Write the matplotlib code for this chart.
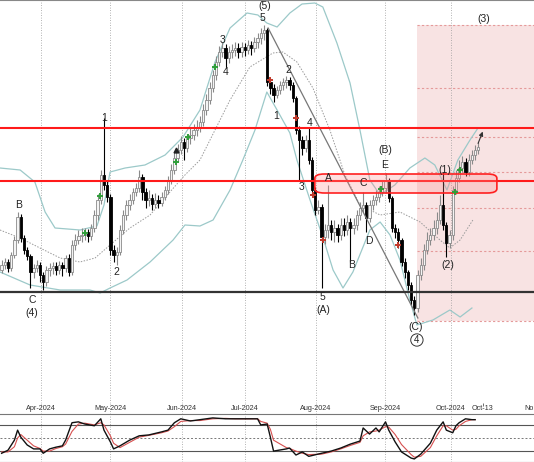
import matplotlib
matplotlib.use("Agg")
import matplotlib.pyplot as plt
from matplotlib.patches import Rectangle, FancyBboxPatch
import numpy as np

plt.rcParams['font.family'] = ['Liberation Sans', 'DejaVu Sans']

# ---- daily bars (chart price units) ----
first_open = 130
closes = [135, 138, 132, 145, 160, 183, 162, 150, 144, 128,
          132, 135, 125, 118, 130, 132, 134, 130, 135, 132,
          142, 128, 155, 160, 164, 165, 168, 164, 172, 185,
          200, 225, 215, 203, 150, 145, 148, 170, 185, 195,
          200, 208, 212, 223, 208, 200, 202, 196, 200, 197,
          203, 210, 220, 230, 242, 250, 258, 252, 262, 265,
          270, 272, 278, 290, 300, 312, 325, 338, 348, 352,
          342, 348, 350, 352, 348, 353, 350, 355, 352, 358,
          362, 367, 370, 318, 312, 305, 310, 315, 318, 320,
          315, 302, 270, 260, 252, 260, 240, 210, 190, 193,
          163, 170, 175, 168, 172, 165, 175, 170, 178, 172,
          175, 185, 192, 195, 182, 195, 200, 203, 208, 212,
          220, 202, 172, 168, 160, 138, 128, 115, 100, 92,
          125, 135, 150, 160, 165, 172, 180, 195, 175, 157,
          165, 210, 222, 232, 238, 228, 240, 245, 250, 253]
highs = [140, 142, 141, 148, 164, 188, 186, 165, 153, 146,
         136, 140, 138, 128, 134, 137, 138, 138, 139, 138,
         145, 146, 160, 166, 170, 172, 172, 171, 176, 190,
         206, 230, 282, 220, 206, 155, 153, 175, 190, 200,
         206, 212, 217, 230, 226, 212, 210, 206, 207, 205,
         208, 214, 224, 236, 248, 256, 264, 262, 266, 272,
         276, 280, 284, 296, 306, 318, 330, 344, 354, 358,
         356, 354, 356, 358, 357, 358, 357, 360, 359, 363,
         367, 372, 375, 372, 322, 316, 314, 319, 322, 324,
         323, 318, 304, 274, 264, 265, 272, 243, 213, 200,
         196, 176, 215, 180, 180, 176, 182, 182, 185, 182,
         182, 190, 198, 208, 198, 200, 205, 210, 214, 220,
         227, 222, 204, 176, 172, 162, 142, 130, 118, 104,
         130, 142, 156, 168, 172, 180, 188, 205, 228, 178,
         170, 214, 230, 240, 244, 242, 246, 250, 255, 258]
lows = [127, 131, 128, 129, 142, 157, 158, 146, 140, 112,
        122, 128, 118, 110, 114, 124, 126, 125, 126, 124,
        128, 124, 125, 150, 156, 158, 160, 158, 160, 168,
        180, 196, 210, 198, 145, 138, 135, 145, 166, 180,
        190, 196, 204, 208, 200, 192, 194, 190, 192, 192,
        194, 200, 206, 216, 226, 238, 246, 240, 248, 256,
        260, 264, 268, 274, 285, 296, 308, 320, 334, 343,
        332, 337, 342, 344, 342, 343, 344, 346, 345, 348,
        352, 356, 360, 314, 306, 298, 302, 306, 310, 312,
        310, 298, 266, 220, 245, 248, 236, 205, 185, 186,
        112, 156, 162, 160, 158, 158, 160, 164, 165, 138,
        166, 170, 180, 188, 168, 178, 190, 195, 198, 204,
        207, 198, 168, 162, 152, 134, 122, 110, 95, 85,
        88, 120, 130, 146, 155, 160, 166, 176, 170, 143,
        152, 160, 206, 218, 228, 224, 224, 236, 240, 246]

# ---- bands (bar index, price) ----
upper_x = [-0.5, 5.8, 10.4, 13.6, 16.7, 24.5, 29.8, 32, 33.9, 38.6, 44.8, 51.1, 56.7, 62,
           66.7, 71.4, 76.7, 80.1, 82.9, 86.1, 90.1, 93.9, 97.9, 100.4, 104.8, 108.9, 112,
           115.1, 118.3, 122.9, 127.6, 132.3, 135.4, 139.2, 142.6, 146.4, 148.9]
upper_p = [232, 230, 218, 188, 172, 170, 174, 195, 228, 232, 235, 245, 263, 290,
           338, 372, 387, 385, 377, 373, 387, 396, 397, 393, 357, 317, 270,
           220, 205, 215, 232, 242, 235, 210, 240, 260, 272]
mid_x = [-0.5, 5.8, 12, 18.3, 24.5, 29.2, 33.9, 40.1, 46.4, 52.6, 57.3, 62, 66.7, 71.4,
         77.6, 84.8, 87.9, 92.3, 97.3, 102.6, 107.3, 112, 118.3, 124.5, 130.8, 137,
         140.1, 143.3, 147.3]
mid_p = [170, 162, 152, 142, 138, 142, 155, 172, 185, 208, 225, 240, 270, 300,
         333, 347, 348, 338, 312, 270, 225, 195, 185, 188, 178, 160,
         152, 160, 180]
lower_x = [-0.5, 8.9, 18.3, 27.6, 30.8, 33.9, 39.2, 46.4, 53.6, 57.3, 62, 66.1, 71.4,
           75.4, 79.2, 82.9, 86.1, 90.1, 92.3, 96.4, 100.4, 103.6, 106.7, 109.8, 115.1,
           118.3, 121.4, 124.5, 127.6, 129.8, 134.8, 140.1, 143.3, 147]
lower_p = [128, 115, 110, 110, 107, 112, 120, 138, 160, 175, 174, 180, 210,
           240, 270, 308, 290, 267, 240, 200, 163, 130, 112, 128, 170,
           178, 165, 140, 100, 75, 80, 90, 83, 92]

# ---- stochastic ----
stoch_x = [0, 2, 4, 5, 6, 8, 10, 12, 13, 15, 17, 19, 20, 22, 24, 26, 29, 31, 32, 34, 35, 37,
           40, 43, 46, 50, 52, 54, 56, 59, 62, 66, 70, 73, 76, 80, 81, 83, 84, 85, 89, 90,
           92, 94, 96, 100, 103, 106, 109, 112, 113, 115, 117, 118, 120, 121, 123, 125,
           128, 129, 131, 134, 136, 138, 139, 141, 142, 143, 145, 147, 148]
stoch_k = [15, 22, 45, 68, 52, 34, 25, 25, 15, 25, 29, 32, 45, 85, 87, 82, 78, 94, 68, 41, 25, 32,
           45, 55, 57, 64, 68, 85, 94, 89, 92, 96, 94, 94, 94, 94, 80, 82, 52, 20, 25, 27,
           11, 18, 8, 15, 20, 27, 36, 43, 73, 59, 73, 64, 87, 68, 41, 18,
           4, 2, 13, 38, 68, 87, 68, 62, 78, 85, 94, 92, 92]
stoch_d = [18, 18, 30, 50, 58, 45, 32, 26, 20, 20, 26, 30, 36, 65, 82, 84, 80, 85, 80, 55, 38, 28,
           40, 52, 56, 62, 66, 76, 88, 90, 90, 94, 95, 94, 94, 94, 88, 84, 70, 45, 28, 26,
           20, 15, 12, 13, 18, 25, 33, 40, 55, 64, 66, 68, 76, 75, 58, 35,
           12, 6, 8, 28, 55, 78, 78, 68, 70, 78, 88, 92, 92]

# ---- levels, zones, signals ----
red_levels = [272, 219]
support_level = 108
target_box = (129.8, 79, 375)          # start bar, bottom, top
target_levels = [375, 312, 263, 228, 192, 149, 79]
resist_zone = (97.9, 154.8, 207, 226)  # x0, x1, low, high
trend_x = [83.3, 130.1]
trend_p = [372, 82]
buy_x = [26, 30.8, 54.5, 58.3, 66.7, 118.6, 141.7, 143.3]
buy_p = [167, 204, 238, 263, 333, 211, 208, 230]
sell_x = [83.9, 92, 97.3, 100.4, 123.9]
sell_p = [320, 282, 205, 160, 155]
wave_labels = [("(5)", 82.3, 394), ("5", 81.4, 382), ("3", 69.2, 360), ("4", 70.1, 328),
               ("1", 32, 282), ("B", 5.3, 195), ("C", 9.5, 100), ("(4)", 9.5, 87),
               ("2", 35.8, 128), ("1", 85.8, 284), ("2", 89.5, 330), ("4", 96.4, 277),
               ("3", 93.6, 213), ("5", 100.4, 103), ("(A)", 100.4, 90), ("A", 102.3, 222),
               ("B", 109.5, 135), ("C", 113, 217), ("D", 114.8, 159), ("E", 119.8, 235),
               ("(B)", 119.8, 250), ("(C)", 129.5, 73), ("(1)", 138.6, 230),
               ("(2)", 139.5, 135), ("(3)", 150.8, 381)]
month_pos = [12.3, 33.9, 56.4, 76.1, 98.3, 119.8, 140.4]
month_lab = ["Apr-2024", "May-2024", "Jun-2024", "Jul-2024", "Aug-2024", "Sep-2024", "Oct-2024"]

X_LIM = (-0.5, 166.4)
GRID = dict(color="#9a9a9a", lw=0.6, ls=(0, (1, 2)), zorder=1)

fig = plt.figure(figsize=(5.34, 4.62), dpi=100)
ax = fig.add_axes([0, 59 / 462, 1, 403 / 462])
axd = fig.add_axes([0, 48 / 462, 1, 11 / 462])
axo = fig.add_axes([0, 0, 1, 48 / 462])

# main panel
ax.set_xlim(*X_LIM)
ax.set_ylim(-3, 400)
for sp in ["left", "right", "bottom"]:
    ax.spines[sp].set_visible(False)
ax.spines["top"].set_color("#888")
ax.set_xticks([])
ax.set_yticks([])
for m in month_pos:
    ax.axvline(m, **GRID)

# target box
ax.add_patch(Rectangle((target_box[0], target_box[1]), X_LIM[1] - target_box[0] + 1,
                       target_box[2] - target_box[1], fc="#f8e3e3", ec="none", zorder=0))
ax.hlines(target_levels, target_box[0], X_LIM[1] + 1, color="#e59a9a", lw=0.8,
          ls=(0, (2, 2)), zorder=0.5)

# bands
ax.plot(upper_x, upper_p, color="#9cc9c9", lw=0.9, zorder=2)
ax.plot(lower_x, lower_p, color="#9cc9c9", lw=0.9, zorder=2)
ax.plot(mid_x, mid_p, color="#9a9a9a", lw=0.7, ls=(0, (1.5, 1.5)), zorder=2)

# candles
o = np.array([first_open] + closes[:-1])
c = np.array(closes)
h = np.array(highs)
l = np.array(lows)
idx = np.arange(len(c))
up = c >= o
dn = ~up
ax.vlines(idx[up], l[up], h[up], color="#8a8a8a", lw=0.8, zorder=3)
ax.vlines(idx[dn], l[dn], h[dn], color="black", lw=0.8, zorder=3)
ax.bar(idx[up], np.maximum(c[up] - o[up], 1), bottom=o[up], width=0.72,
       color="#f4f4f4", edgecolor="#8a8a8a", lw=0.6, zorder=3.1)
ax.bar(idx[dn], np.maximum(o[dn] - c[dn], 1), bottom=c[dn], width=0.72,
       color="black", edgecolor="black", lw=0.6, zorder=3.1)

# levels
ax.axhline(red_levels[0], color="#ff1a1a", lw=1.5, zorder=4)
ax.axhline(red_levels[1], color="#ff1a1a", lw=1.5, zorder=4)
ax.axhline(support_level, color="#333333", lw=1.6, zorder=4)
zx0, zx1, zlo, zhi = resist_zone
ax.add_patch(FancyBboxPatch((zx0, zlo), zx1 - zx0, zhi - zlo,
                            boxstyle="round,pad=0,rounding_size=3",
                            mutation_aspect=1.4,
                            fc=(1, 0.55, 0.55, 0.28), ec="#ff2020", lw=1.2, zorder=4))
ax.plot(trend_x, trend_p, color="#777777", lw=0.9, zorder=3.5)

# signals
ax.plot(buy_x, buy_p, "+", color="#2f9e3a", ms=5, mew=1.4, zorder=5)
ax.plot(sell_x, sell_p, "+", color="#c0392b", ms=5, mew=1.4, zorder=5)
ax.plot([54.5], [250], "^", color="#222", ms=3.5, zorder=5)
ax.annotate("", xy=(150.7, 271), xytext=(148.6, 254),
            arrowprops=dict(arrowstyle="-|>", color="#333", lw=0.8, mutation_scale=6),
            zorder=5)

for txt, x, y in wave_labels:
    ax.text(x, y, txt, ha="center", va="center", fontsize=7.5, color="#222", zorder=6)
ax.text(129.8, 60, "4", ha="center", va="center", fontsize=7, color="#222", zorder=6,
        bbox=dict(boxstyle="circle,pad=0.12", fc="white", ec="#333", lw=0.7))

# date strip
axd.set_xlim(*X_LIM)
axd.set_ylim(0, 1)
axd.axis("off")
for m, lab in zip(month_pos, month_lab):
    axd.axvline(m, **GRID)
    axd.text(m, 0.5, lab, ha="center", va="center", fontsize=5.2, color="#333")
axd.text(150.4, 0.5, "Oct-13", ha="center", va="center", fontsize=5.2, color="#333")
axd.vlines(150.4, 0.75, 1.0, color="#555", lw=0.6)
axd.text(166.4, 0.5, "No", ha="right", va="center", fontsize=5.2, color="#333")

# oscillator
axo.set_xlim(*X_LIM)
axo.set_ylim(-5, 105)
axo.set_xticks([])
axo.set_yticks([])
for sp in ["left", "right"]:
    axo.spines[sp].set_visible(False)
axo.spines["top"].set_color("#777")
axo.spines["bottom"].set_color("#777")
for m in month_pos:
    axo.axvline(m, **GRID)
axo.axhline(80, color="#555", lw=0.8)
axo.axhline(20, color="#555", lw=0.8)
axo.axhline(50, color="#777", lw=0.7, ls=(0, (2, 2)))
axo.plot(stoch_x, stoch_d, color="#d65050", lw=0.8, zorder=3)
axo.plot(stoch_x, stoch_k, color="#111", lw=1.0, zorder=4)

fig.savefig("out.png", dpi=100)
